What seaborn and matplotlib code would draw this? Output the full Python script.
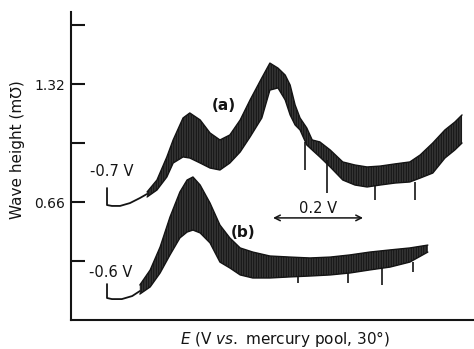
import numpy as np
import pandas as pd
import matplotlib
matplotlib.use("Agg")
import matplotlib.pyplot as plt
import seaborn as sns

# ---------------- data (x = potential swept from start, V; y = wave height, m-mho) ----
# curve (a): starts at -0.7 V
a_lead_x = [0.0, 0.0, 0.011, 0.029, 0.051, 0.073, 0.089]
a_lead_y = [0.738, 0.643, 0.638, 0.638, 0.654, 0.682, 0.705]
a_x = [0.089, 0.111, 0.133, 0.147, 0.169, 0.184, 0.207, 0.229, 0.251, 0.273,
       0.296, 0.318, 0.344, 0.362, 0.380, 0.396, 0.407, 0.418, 0.429, 0.444,
       0.456, 0.473, 0.496, 0.524, 0.551, 0.578, 0.607, 0.640, 0.673, 0.696,
       0.724, 0.751, 0.773, 0.789]
a_upper = [0.716, 0.783, 0.912, 1.007, 1.130, 1.158, 1.119, 1.046, 1.007, 1.035,
           1.119, 1.231, 1.354, 1.437, 1.409, 1.370, 1.314, 1.203, 1.130, 1.074,
           1.007, 0.996, 0.951, 0.884, 0.867, 0.856, 0.861, 0.873, 0.884, 0.923,
           0.990, 1.063, 1.107, 1.147]
a_lower = [0.688, 0.727, 0.800, 0.878, 0.912, 0.906, 0.878, 0.850, 0.839, 0.878,
           0.940, 1.024, 1.130, 1.286, 1.298, 1.231, 1.147, 1.091, 1.063, 0.979,
           0.951, 0.912, 0.856, 0.783, 0.755, 0.744, 0.755, 0.766, 0.772, 0.794,
           0.822, 0.906, 0.951, 0.990]
a_spike_x = [0.440, 0.489, 0.596, 0.684]
a_spike_top = [0.996, 0.895, 0.755, 0.772]
a_spike_bot = [0.839, 0.710, 0.671, 0.671]

# curve (b): starts at -0.6 V
b_lead_x = [0.0, 0.0, 0.011, 0.033, 0.056, 0.073]
b_lead_y = [0.201, 0.123, 0.117, 0.117, 0.134, 0.162]
b_x = [0.073, 0.096, 0.118, 0.140, 0.162, 0.178, 0.191, 0.207, 0.229, 0.251,
       0.273, 0.296, 0.324, 0.362, 0.407, 0.451, 0.496, 0.540, 0.584, 0.629,
       0.673, 0.713]
b_upper = [0.196, 0.280, 0.408, 0.576, 0.716, 0.783, 0.800, 0.755, 0.654, 0.531,
           0.459, 0.403, 0.380, 0.358, 0.352, 0.347, 0.352, 0.364, 0.380, 0.392,
           0.403, 0.419]
b_lower = [0.145, 0.185, 0.263, 0.364, 0.459, 0.492, 0.503, 0.487, 0.431, 0.324,
           0.291, 0.252, 0.235, 0.235, 0.241, 0.246, 0.252, 0.263, 0.280, 0.296,
           0.324, 0.380]
b_spike_x = [0.424, 0.536, 0.611, 0.680]
b_spike_top = [0.241, 0.263, 0.291, 0.324]
b_spike_bot = [0.207, 0.207, 0.196, 0.268]

y_ticks = [0.33, 0.66, 0.99, 1.32, 1.65]
y_tick_labels = ["", "0.66", "", "1.32", ""]
scale_bar_start = 0.369
scale_bar_len = 0.2

# ---------------- drawing ----------------
sns.set_style("white")
plt.rcParams["font.family"] = ["DejaVu Sans"]
plt.rcParams["mathtext.fontset"] = "dejavusans"
plt.rcParams["hatch.linewidth"] = 0.4

fig = plt.figure(figsize=(4.74, 3.49), dpi=100)
ax = fig.add_axes([0.1498, 0.0831, 0.8502, 0.8825])
ink = "#141414"

for lx, ly in [(a_lead_x, a_lead_y), (b_lead_x, b_lead_y)]:
    sns.lineplot(x=lx, y=ly, estimator=None, sort=False, color=ink, lw=1.3, ax=ax)

for xs, up, lo in [(a_x, a_upper, a_lower), (b_x, b_upper, b_lower)]:
    df = pd.DataFrame({"x": xs, "up": up, "lo": lo})
    ax.fill_between(df["x"], df["lo"], df["up"], facecolor=ink,
                    edgecolor="#505050", hatch="|" * 10, lw=0)
    sns.lineplot(data=df, x="x", y="up", color=ink, lw=1.0, ax=ax)
    sns.lineplot(data=df, x="x", y="lo", color=ink, lw=1.0, ax=ax)

ax.vlines(a_spike_x, a_spike_bot, a_spike_top, color=ink, lw=1.2)
ax.vlines(b_spike_x, b_spike_bot, b_spike_top, color=ink, lw=1.2)

ax.set_xlim(-0.08, 0.8156)
ax.set_ylim(0, 1.7227)

ax.set_yticks(y_ticks)
ax.set_yticklabels(y_tick_labels)
ax.set_xticks([])
ax.tick_params(axis="y", direction="in", length=10, width=1.5, pad=4,
               labelsize=10, colors=ink, left=True)
for side in ["top", "right"]:
    ax.spines[side].set_visible(False)
for side in ["left", "bottom"]:
    ax.spines[side].set_linewidth(1.5)
    ax.spines[side].set_color(ink)

ax.set_ylabel("Wave height (m\u2127)", fontsize=11, color=ink)
ax.yaxis.set_label_coords(-0.114, 0.552)
ax.set_xlabel(r"$\it{E}$ (V $\it{vs.}$ mercury pool, 30°)", fontsize=11, color=ink)
ax.xaxis.set_label_coords(0.531, -0.03)

ax.text(0.058, 0.828, "-0.7 V", ha="right", va="center", fontsize=10.5, color=ink)
ax.text(0.056, 0.263, "-0.6 V", ha="right", va="center", fontsize=10.5, color=ink)
ax.text(0.260, 1.197, "(a)", ha="center", va="center", fontsize=11, color=ink,
        fontweight="bold")
ax.text(0.302, 0.487, "(b)", ha="center", va="center", fontsize=11, color=ink,
        fontweight="bold")
ax.text(scale_bar_start + scale_bar_len / 2, 0.621, "0.2 V", ha="center",
        va="center", fontsize=10.5, color=ink)
ax.annotate("", xy=(scale_bar_start + scale_bar_len, 0.571),
            xytext=(scale_bar_start, 0.571),
            arrowprops=dict(arrowstyle="<->", color=ink, lw=1.1,
                            shrinkA=0, shrinkB=0))

fig.savefig("out.png", dpi=100, facecolor="white")
